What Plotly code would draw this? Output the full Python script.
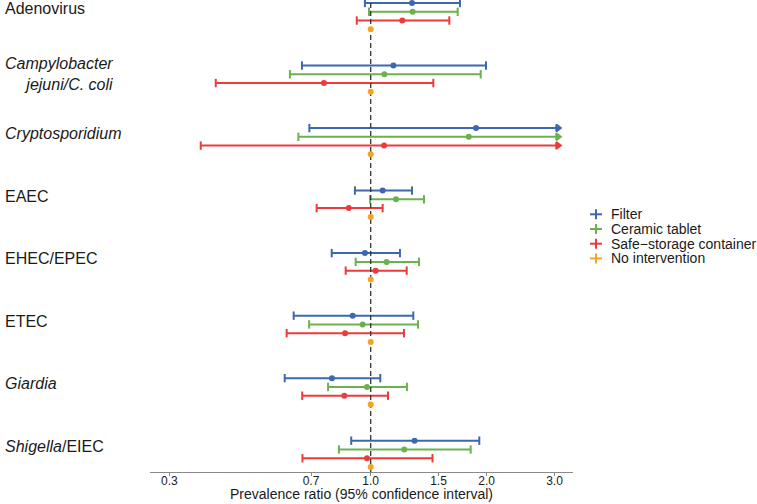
import plotly.graph_objects as go
import math

# ---------------- data ----------------
categories = ["Adenovirus", "Campylobacter jejuni/C. coli", "Cryptosporidium", "EAEC",
              "EHEC/EPEC", "ETEC", "Giardia", "Shigella/EIEC"]
category_labels = ["Adenovirus", "<i>Campylobacter</i><br><i>jejuni/C. coli</i>",
                   "<i>Cryptosporidium</i>", "EAEC", "EHEC/EPEC", "ETEC",
                   "<i>Giardia</i>", "<i>Shigella</i>/EIEC"]
series_names = ["Filter", "Ceramic tablet", "Safe\u2212storage container", "No intervention"]
series_colors = ["#3D68B0", "#6BB24F", "#EC3B3B", "#F4A424"]

# prevalence ratios and 95% CI (None upper = beyond the displayed axis)
filter_pr = [1.28, 1.145, 1.877, 1.074, 0.966, 0.898, 0.793, 1.30]
filter_lo = [0.966, 0.663, 0.693, 0.91, 0.792, 0.631, 0.598, 0.890]
filter_hi = [1.705, 1.992, None, 1.28, 1.191, 1.29, 1.059, 1.914]

ceramic_pr = [1.285, 1.085, 1.797, 1.163, 1.10, 0.953, 0.978, 1.222]
ceramic_lo = [0.99, 0.617, 0.649, 0.996, 0.914, 0.692, 0.775, 0.827]
ceramic_hi = [1.682, 1.93, None, 1.375, 1.335, 1.327, 1.242, 1.818]

safe_pr = [1.208, 0.756, 1.083, 0.877, 1.03, 0.858, 0.854, 0.978]
safe_lo = [0.92, 0.396, 0.362, 0.724, 0.861, 0.605, 0.664, 0.665]
safe_hi = [1.60, 1.454, None, 1.074, 1.24, 1.22, 1.109, 1.447]

none_pr = [1.0, 1.0, 1.0, 1.0, 1.0, 1.0, 1.0, 1.0]

tick_vals = [0.3, 0.7, 1.0, 1.5, 2.0, 3.0]
tick_text = ["0.3", "0.7", "1.0", "1.5", "2.0", "3.0"]
ref_value = 1.0
clip_max = 3.06

series = [
    (filter_pr, filter_lo, filter_hi),
    (ceramic_pr, ceramic_lo, ceramic_hi),
    (safe_pr, safe_lo, safe_hi),
    (none_pr, None, None),
]

# ---------------- layout constants ----------------
W, H = 757, 504
L, R, T, B = 150, 184, 0, 32
PW, PH = W - L - R, H - T - B
CAT_STEP = 7.13           # rows between categories
Y_RANGE = [53.48, -0.342]
X_RANGE = [-0.5730, 0.5252]
FONT = "Liberation Sans, Arial, Helvetica, sans-serif"
TXT = "#1a1a1a"

def ypos(ci, si):
    return ci * CAT_STEP + si

fig = go.Figure()

# CI lines
for si, (pr, lo, hi) in enumerate(series):
    if lo is None:
        continue
    xs, ys, syms = [], [], []
    for ci in range(len(categories)):
        y = ypos(ci, si)
        upper = hi[ci] if hi[ci] is not None else clip_max
        xs += [lo[ci], upper, None]
        ys += [y, y, None]
        syms += ["line-ns", "triangle-right" if hi[ci] is None else "line-ns", "line-ns"]
    fig.add_trace(go.Scatter(
        x=xs, y=ys, mode="lines+markers",
        line=dict(color=series_colors[si], width=2),
        marker=dict(symbol=syms, size=6, color=series_colors[si],
                    line=dict(color=series_colors[si], width=2)),
        showlegend=False, hoverinfo="skip"))

# reference line
fig.add_trace(go.Scatter(
    x=[ref_value, ref_value], y=Y_RANGE, mode="lines",
    line=dict(color="#333333", width=1.3, dash="5px,3px"),
    showlegend=False, hoverinfo="skip"))

# point estimates
for si, (pr, lo, hi) in enumerate(series):
    fig.add_trace(go.Scatter(
        x=pr, y=[ypos(ci, si) for ci in range(len(categories))],
        mode="markers", name=series_names[si],
        marker=dict(symbol="circle", size=6, color=series_colors[si]),
        showlegend=False))

# category labels
annotations = []
for ci, lab in enumerate(category_labels):
    off = 0.91 if "<br>" in lab else 0.66
    annotations.append(dict(
        text=lab, xref="paper", yref="y", x=(3 - L) / PW, y=ypos(ci, 0) + off,
        xanchor="left", yanchor="middle", align="right", showarrow=False,
        font=dict(family=FONT, size=16, color=TXT)))

# x title
annotations.append(dict(
    text="Prevalence ratio (95% confidence interval)", xref="paper", yref="paper",
    x=0.5, y=-(494 - PH) / PH, xanchor="center", yanchor="middle", showarrow=False,
    font=dict(family=FONT, size=14, color=TXT)))

# manual legend
shapes = []
leg_x, leg_text_x = 596, 609
leg_rows = [214.3, 229.0, 243.7, 258.4]
def px2x(px):
    return (px - L) / PW
def py2y(py):
    return (T + PH - py) / PH
for si, name in enumerate(series_names):
    yc = leg_rows[si]
    c = series_colors[si]
    shapes.append(dict(type="line", xref="paper", yref="paper",
                       x0=px2x(leg_x - 6), x1=px2x(leg_x + 6), y0=py2y(yc), y1=py2y(yc),
                       line=dict(color=c, width=2)))
    shapes.append(dict(type="line", xref="paper", yref="paper",
                       x0=px2x(leg_x), x1=px2x(leg_x), y0=py2y(yc - 5), y1=py2y(yc + 5),
                       line=dict(color=c, width=2)))
    annotations.append(dict(
        text=name, xref="paper", yref="paper", x=px2x(leg_text_x), y=py2y(yc),
        xanchor="left", yanchor="middle", showarrow=False,
        font=dict(family=FONT, size=14, color=TXT)))

fig.update_layout(
    width=W, height=H, margin=dict(l=L, r=R, t=T, b=B, autoexpand=False),
    paper_bgcolor="white", plot_bgcolor="white",
    showlegend=False,
    xaxis=dict(type="log", range=X_RANGE, tickvals=tick_vals, ticktext=tick_text,
               showgrid=False, zeroline=False, showline=True, linecolor="#8a8a8a",
               linewidth=1.2, ticks="outside", ticklen=3, tickcolor="#8a8a8a",
               ticklabelstandoff=-6,
               tickfont=dict(family=FONT, size=12, color=TXT), automargin=False),
    yaxis=dict(range=Y_RANGE, visible=False, showgrid=False, zeroline=False),
    annotations=annotations, shapes=shapes,
)

fig.write_html("out.html", config={"displayModeBar": False},
               post_script="document.body.style.margin='0';")
